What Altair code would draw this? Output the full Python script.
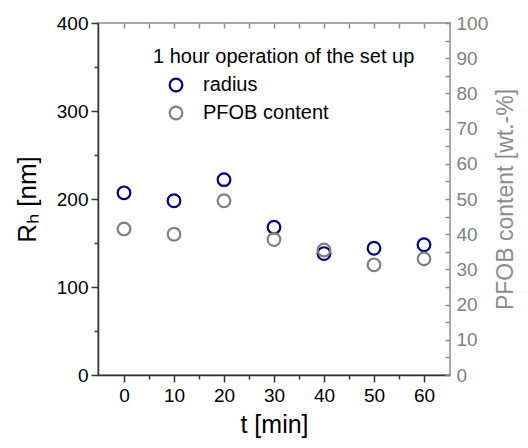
import altair as alt
import pandas as pd

t_min = [0, 10, 20, 30, 40, 50, 60]
radius_nm = [207, 198, 222, 168, 138, 144, 148]
pfob_wt = [41.5, 40.0, 49.5, 38.5, 35.5, 31.3, 33.0]
series_names = ["radius", "PFOB content"]
series_colors = ["#000080", "#808080"]
legend_title = "1 hour operation of the set up"

df = pd.DataFrame({"t": t_min, "radius": radius_nm, "pfob": pfob_wt})

FONT = "Liberation Sans"
color_scale = alt.Scale(domain=series_names, range=series_colors)
legend = alt.Legend(
    title=None, orient="none", legendX=68, legendY=52, padding=0,
    symbolType="circle", symbolSize=160, symbolStrokeWidth=2.2,
    symbolFillColor="transparent",
    labelFont=FONT, labelFontSize=20, labelColor="#000000",
    labelOffset=17, rowPadding=6,
)

xscale = alt.Scale(domain=[-5.2, 65.2], nice=False, zero=False)

base = alt.Chart(df)

radius_layer = base.transform_calculate(series="'radius'").mark_point(
    shape="circle", filled=False, size=160, strokeWidth=2.2, opacity=1
).encode(
    x=alt.X("t:Q", scale=xscale, axis=alt.Axis(
        orient="bottom", title="t [min]", values=list(range(0, 61, 5)),
        labelExpr="datum.value % 10 === 0 ? datum.label : ''",
        tickSize={"condition": {"test": "datum.value % 10 === 0", "value": 7}, "value": 4},
        tickColor="#333333", domainColor="#333333", domainWidth=1.5, tickWidth=1.5,
        labelColor="#000000", labelFont=FONT, labelFontSize=19, labelPadding=4,
        titleFont=FONT, titleFontSize=25, titleFontWeight="normal", titleColor="#000000",
        titlePadding=7, grid=False, labelFlush=False,
    )),
    y=alt.Y("radius:Q", scale=alt.Scale(domain=[0, 400], nice=False), axis=alt.Axis(
        orient="left", title="Rₕ [nm]", values=list(range(0, 401, 50)),
        labelExpr="datum.value % 100 === 0 ? datum.label : ''",
        tickSize={"condition": {"test": "datum.value % 100 === 0", "value": 7}, "value": 4},
        tickColor="#333333", domainColor="#333333", domainWidth=1.5, tickWidth=1.5,
        labelColor="#000000", labelFont=FONT, labelFontSize=19, labelPadding=3,
        titleFont=FONT, titleFontSize=26, titleFontWeight="normal", titleColor="#000000",
        titlePadding=16, grid=False, labelFlush=False,
    )),
    color=alt.Color("series:N", scale=color_scale, legend=legend),
)

pfob_layer = base.transform_calculate(series="'PFOB content'").mark_point(
    shape="circle", filled=False, size=160, strokeWidth=2.2, opacity=1
).encode(
    x=alt.X("t:Q", scale=xscale, axis=alt.Axis(
        orient="top", title=None, values=list(range(0, 61, 5)), labels=False,
        domain=False, offset=-5, tickSize=5, tickColor="#8c8c8c", tickWidth=1.5,
        grid=False,
    )),
    y=alt.Y("pfob:Q", scale=alt.Scale(domain=[0, 100], nice=False), axis=alt.Axis(
        orient="right", title="PFOB content [wt.-%]", values=list(range(0, 101, 5)),
        labelExpr="datum.value % 10 === 0 ? datum.label : ''",
        domain=False, offset=-5, tickSize=5, tickColor="#8c8c8c", tickWidth=1.5,
        labelColor="#808080", labelFont=FONT, labelFontSize=19, labelPadding=6,
        titleFont=FONT, titleFontSize=23, titleFontWeight="normal", titleColor="#8c8c8c",
        titleAngle=270, titlePadding=30, grid=False, labelFlush=False,
    )),
    color=alt.Color("series:N", scale=color_scale, legend=legend),
)

title_layer = alt.Chart(pd.DataFrame({"txt": [legend_title]})).mark_text(
    align="left", baseline="middle", font=FONT, fontSize=20, color="#000000"
).encode(x=alt.value(55), y=alt.value(34), text="txt:N")

chart = alt.layer(radius_layer, pfob_layer, title_layer).resolve_scale(
    y="independent"
).resolve_axis(x="independent").properties(
    width=352, height=352,
    autosize=alt.AutoSizeParams(type="none"),
    padding={"left": 90, "top": 15, "right": 70, "bottom": 65},
).configure_view(stroke="#8c8c8c", strokeWidth=1.5)

chart.save("out.html", embed_options={"renderer": "svg", "actions": False})
